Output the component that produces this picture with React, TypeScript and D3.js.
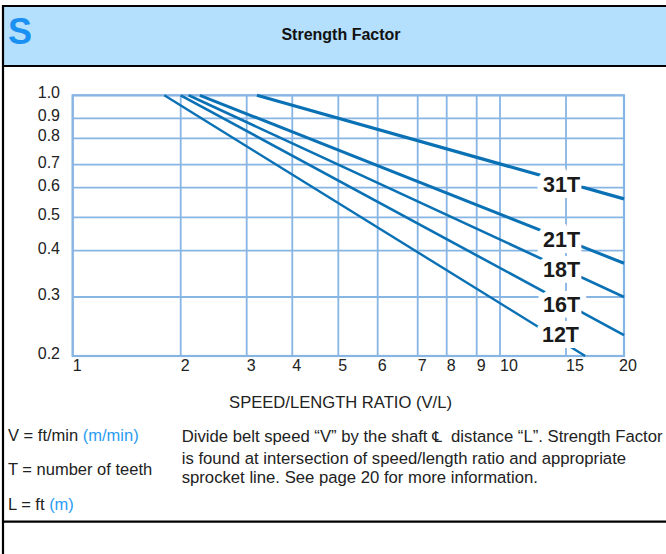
import React from 'react';
import * as d3 from 'd3';

const W = 666;
const H = 554;

// ---- data ----
const xTicks = [1, 2, 3, 4, 5, 6, 7, 8, 9, 10, 15, 20];
const xTickLabels = ['1', '2', '3', '4', '5', '6', '7', '8', '9', '10', '15', '20'];
const yTicks = [1.0, 0.9, 0.8, 0.7, 0.6, 0.5, 0.4, 0.3, 0.2];
const yTickLabels = ['1.0', '0.9', '0.8', '0.7', '0.6', '0.5', '0.4', '0.3', '0.2'];

const sprockets = ['31T', '21T', '18T', '16T', '12T'];
const startRatio = [3.2, 2.25, 2.1, 2.0, 1.8];
const startFactor = [1.0, 1.0, 1.0, 1.0, 1.0];
const endRatio = [20, 20, 20, 20, 16.5];
const endFactor = [0.56, 0.37, 0.30, 0.231, 0.2];
const labelRatio = [14.6, 14.6, 14.6, 14.6, 14.5];
const labelFactor = [0.613, 0.431, 0.356, 0.286, 0.2315];

// ---- layout (relative positions of the printed chart's grid) ----
const xGridFrac = [0, 0.1959, 0.3156, 0.3983, 0.4818, 0.5532, 0.6258, 0.6784, 0.7328, 0.7751, 0.8948, 1];
const yGridFrac = [0, 0.0882, 0.1649, 0.2662, 0.3544, 0.468, 0.5961, 0.7737, 1];
const lineWidths = [3.2, 3, 2.6, 2.6, 2.4];

const plot = { left: 72.7, top: 95.3, right: 624, bottom: 356 };
const FONT = '"Liberation Sans", Arial, Helvetica, sans-serif';
const GRID = '#87b5e4';
const LINE = '#0b71b5';
const LIGHTBLUE = '#2a9cf2';

const xScale = d3
  .scaleLinear()
  .domain(xTicks.map(Math.log10))
  .range(xGridFrac.map((f) => plot.left + f * (plot.right - plot.left)));
const yScale = d3
  .scaleLinear()
  .domain(yTicks.map(Math.log10))
  .range(yGridFrac.map((f) => plot.top + f * (plot.bottom - plot.top)));
const X = (v: number) => xScale(Math.log10(v));
const Y = (v: number) => yScale(Math.log10(v));

const lineGen = d3
  .line<[number, number]>()
  .x((d) => X(d[0]))
  .y((d) => Y(d[1]));

export default function App() {
  return (
    <svg
      width={W}
      height={H}
      style={{ position: 'absolute', left: 0, top: 0, display: 'block', background: '#fff' }}
      fontFamily={FONT}
    >
      {/* header */}
      <rect x={3} y={6} width={W} height={60} fill="#b4dffd" />
      <line x1={2} x2={W} y1={6} y2={6} stroke="#000" strokeWidth={2.2} />
      <line x1={2} x2={W} y1={66} y2={66} stroke="#000" strokeWidth={2.2} />
      <line x1={3} x2={3} y1={5} y2={H} stroke="#000" strokeWidth={2.2} />
      <line x1={2} x2={W} y1={521.7} y2={521.7} stroke="#000" strokeWidth={2.2} />
      <text x={8} y={43.5} fontSize={36} fontWeight="bold" fill="#1a90f2">S</text>
      <text x={341} y={40} fontSize={16} fontWeight="bold" fill="#111" textAnchor="middle">
        Strength Factor
      </text>

      {/* grid */}
      {xTicks.map((t, i) => (
        <line key={'gx' + i} x1={X(t)} x2={X(t)} y1={plot.top} y2={plot.bottom} stroke={GRID} strokeWidth={1.8} />
      ))}
      {yTicks.map((t, i) => (
        <line key={'gy' + i} x1={plot.left} x2={plot.right} y1={Y(t)} y2={Y(t)} stroke={GRID} strokeWidth={1.8} />
      ))}
      <rect
        x={plot.left}
        y={plot.top}
        width={plot.right - plot.left}
        height={plot.bottom - plot.top}
        fill="none"
        stroke={GRID}
        strokeWidth={2.2}
      />

      {/* tick labels */}
      {yTicks.map((t, i) => (
        <text key={'yl' + i} x={60} y={Y(t) + 3} fontSize={16} textAnchor="end" fill="#222">
          {yTickLabels[i]}
        </text>
      ))}
      {xTicks.map((t, i) => (
        <text
          key={'xl' + i}
          x={i === xTicks.length - 1 ? X(t) + 4 : X(t)}
          y={plot.bottom + 14.7}
          fontSize={16}
          textAnchor={i === xTicks.length - 1 ? 'middle' : 'start'}
          fill="#222"
        >
          {xTickLabels[i]}
        </text>
      ))}

      {/* sprocket lines */}
      {sprockets.map((s, i) => (
        <path
          key={'ln' + i}
          d={lineGen([
            [startRatio[i], startFactor[i]],
            [endRatio[i], endFactor[i]],
          ]) as string}
          fill="none"
          stroke={LINE}
          strokeWidth={lineWidths[i]}
        />
      ))}
      {sprockets.map((s, i) => (
        <text
          key={'lb' + i}
          x={X(labelRatio[i])}
          y={Y(labelFactor[i])}
          dy="0.36em"
          textAnchor="middle"
          fontSize={21.5}
          fontWeight="bold"
          fill="#1a1a1a"
          stroke="#fff"
          strokeWidth={12}
          strokeLinejoin="miter"
          style={{ paintOrder: 'stroke' }}
        >
          {s}
        </text>
      ))}

      {/* axis title */}
      <text x={340.5} y={408.3} fontSize={16.6} textAnchor="middle" fill="#222">
        SPEED/LENGTH RATIO (V/L)
      </text>

      {/* legend / notes */}
      <text x={8} y={440.7} fontSize={16.5} fill="#222">
        V = ft/min <tspan fill={LIGHTBLUE}>(m/min)</tspan>
      </text>
      <text x={8} y={475} fontSize={16.5} fill="#222">
        T = number of teeth
      </text>
      <text x={8} y={510} fontSize={16.5} fill="#222">
        L = ft <tspan fill={LIGHTBLUE}>(m)</tspan>
      </text>

      <text x={181.7} y={441.5} fontSize={16.7} fill="#222">
        {'Divide belt speed “V” by the shaft '}
        <tspan fontFamily="DejaVu Sans" fontSize={15}>℄</tspan>
        {'\u00a0\u00a0distance “L”. Strength Factor'}
      </text>
      <text x={181.7} y={463.5} fontSize={16.7} fill="#222">
        is found at intersection of speed/length ratio and appropriate
      </text>
      <text x={181.7} y={482.5} fontSize={16.7} fill="#222">
        sprocket line. See page 20 for more information.
      </text>
    </svg>
  );
}
